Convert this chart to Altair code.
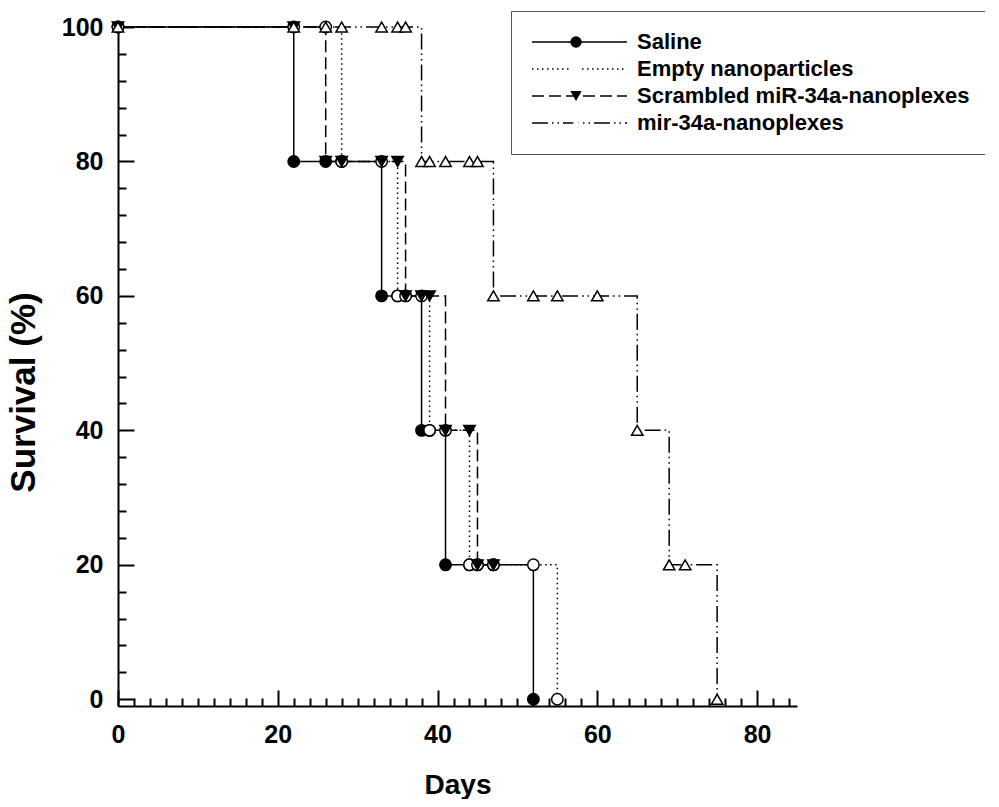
import altair as alt
import pandas as pd

# ---- data ----
series = ["Saline", "Empty nanoparticles", "Scrambled miR-34a-nanoplexes", "mir-34a-nanoplexes"]

saline_days = [0, 22, 33, 38, 41, 52]
saline_surv = [100, 80, 60, 40, 20, 0]
empty_days = [0, 28, 35, 39, 44, 55]
empty_surv = [100, 80, 60, 40, 20, 0]
scrambled_days = [0, 26, 36, 41, 45, 47]
scrambled_surv = [100, 80, 60, 40, 20, 20]
mir_days = [0, 38, 47, 65, 69, 75]
mir_surv = [100, 80, 60, 40, 20, 0]

# observation days at which symbols are drawn
marker_days = [0, 22, 26, 28, 33, 35, 36, 38, 39, 41, 44, 45, 47, 52, 55, 60, 65, 69, 71, 75]

x_major = [0, 20, 40, 60, 80]
x_minor = list(range(0, 85, 2))
y_major = [0, 20, 40, 60, 80, 100]
y_minor = list(range(0, 101, 4))

# ---- build tables ----
all_days = [saline_days, empty_days, scrambled_days, mir_days]
all_surv = [saline_surv, empty_surv, scrambled_surv, mir_surv]
marker_names = [s + " " for s in series]

line_rows, mark_rows = [], []
for name, mname, d, s in zip(series, marker_names, all_days, all_surv):
    for dd, ss in zip(d, s):
        line_rows.append({"series": name, "day": dd, "surv": ss})
    for t in marker_days:
        if t <= d[-1]:
            idx = max(k for k in range(len(d)) if d[k] <= t)
            mark_rows.append({"series_m": mname, "day": t, "surv": s[idx]})
lines_df = pd.DataFrame(line_rows)
marks_df = pd.DataFrame(mark_rows)

FONT = "Liberation Sans"
W, H = 679, 679

xscale = alt.Scale(domain=[0, 85], nice=False, zero=False)
yscale = alt.Scale(domain=[-1, 100], nice=False, zero=False)

lines = alt.Chart(lines_df).mark_line(
    interpolate="step-after", color="black", strokeWidth=1.5
).encode(
    x=alt.X("day:Q", scale=xscale, axis=alt.Axis(
        orient="bottom", values=x_major, ticks=False, tickSize=0, grid=False,
        domain=True, domainColor="black", domainWidth=2, labelFlush=False,
        labelFont=FONT, labelFontSize=25, labelFontWeight="bold", labelColor="black",
        labelPadding=16, title="Days", titleFont=FONT, titleFontSize=28,
        titleFontWeight="bold", titleColor="black", titleY=65)),
    y=alt.Y("surv:Q", scale=yscale, axis=alt.Axis(
        orient="left", values=y_major, ticks=False, tickSize=0, grid=False,
        domain=True, domainColor="black", domainWidth=2, labelFlush=False,
        labelFont=FONT, labelFontSize=25, labelFontWeight="bold", labelColor="black",
        labelPadding=15, title="Survival (%)", titleFont=FONT, titleFontSize=35,
        titleFontWeight="bold", titleColor="black", titleX=-77, titleY=365)),
    strokeDash=alt.StrokeDash("series:N", scale=alt.Scale(
        domain=series, range=[[1, 0], [1.5, 3.5], [12, 5], [16, 4, 1.5, 4, 1.5, 4]]),
        legend=alt.Legend(
            orient="none", legendX=393, legendY=-16, padding=20, title=None,
            strokeColor="#555555", fillColor="white", clipHeight=22,
            symbolType="stroke", symbolSize=9025, symbolStrokeWidth=1.5,
            symbolStrokeColor="black",
            labelFont=FONT, labelFontSize=22, labelFontWeight="bold", labelColor="black",
            labelOffset=9, labelLimit=500, rowPadding=5)),
)

tick_size = {"condition": {"test": "datum.value % 20 === 0", "value": 16}, "value": 8}

marker_legend = alt.Legend(
    orient="none", legendX=427, legendY=-16, padding=20, title=None, clipHeight=22,
    symbolSize=130, symbolStrokeWidth=1.5, symbolStrokeColor="black",
    labelExpr="''", labelFontSize=22, labelLimit=500, rowPadding=5)

points = alt.Chart(marks_df).mark_point(
    stroke="black", strokeWidth=1.5, size=130, opacity=1, fillOpacity=1
).encode(
    x=alt.X("day:Q", scale=xscale, axis=alt.Axis(
        orient="top", offset=-H, values=x_minor, labels=False, domain=False, grid=False,
        tickSize=tick_size, tickWidth=2, tickColor="black", title=None)),
    y=alt.Y("surv:Q", scale=yscale, axis=alt.Axis(
        orient="right", offset=-W, values=y_minor, labels=False, domain=False, grid=False,
        tickSize=tick_size, tickWidth=2, tickColor="black", title=None)),
    shape=alt.Shape("series_m:N", scale=alt.Scale(
        domain=marker_names, range=["circle", "circle", "triangle-down", "triangle-up"]),
        legend=marker_legend),
    fill=alt.Fill("series_m:N", scale=alt.Scale(
        domain=marker_names, range=["black", "white", "black", "white"]),
        legend=marker_legend),
)

chart = alt.layer(lines, points).properties(
    width=W, height=H, background="white",
    autosize=alt.AutoSizeParams(type="none"),
    padding={"left": 110, "top": 19, "right": 188, "bottom": 93},
).configure_view(strokeWidth=0, stroke="transparent").configure_axis(
    domain=False, grid=False
)

chart.save("out.html", embed_options={"renderer": "svg", "actions": False})
